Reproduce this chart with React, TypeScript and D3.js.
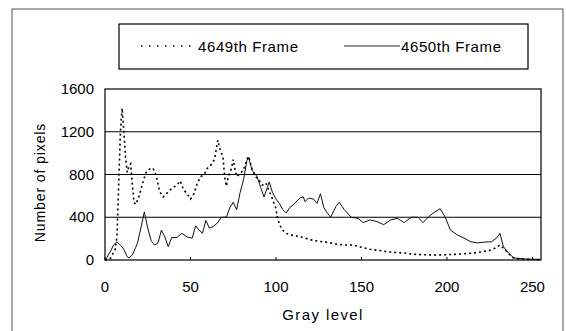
import React from "react";
import * as d3 from "d3";

const width = 566;
const height = 331;
const margin = { top: 89, right: 25, bottom: 71, left: 105 };

// 4649th frame histogram (gray level, count)
const frame4649Gray = [0, 3, 6, 7, 8, 9, 10, 11, 12, 13, 14, 15, 16, 17, 18, 20, 22, 24, 26, 28, 30, 32, 34, 36, 38, 40, 42, 44, 46, 48, 50, 52, 54, 56, 58, 60, 62, 64, 66, 67, 69, 70, 71, 72, 74, 75, 76, 77, 79, 81, 83, 84, 86, 88, 90, 92, 94, 96, 98, 100, 101, 103, 105, 108, 112, 116, 120, 125, 130, 135, 140, 145, 150, 155, 160, 165, 170, 175, 180, 185, 190, 195, 200, 205, 210, 215, 220, 225, 228, 231, 233, 235, 238, 242, 248, 255];
const frame4649Count = [0, 10, 100, 220, 700, 1200, 1420, 1210, 960, 820, 880, 900, 700, 540, 520, 600, 720, 820, 850, 860, 790, 640, 590, 620, 655, 680, 700, 740, 655, 620, 570, 620, 720, 780, 800, 860, 890, 940, 1120, 1050, 960, 780, 690, 770, 860, 940, 850, 780, 810, 840, 940, 970, 850, 780, 750, 700, 720, 650, 570, 480, 380, 300, 260, 235, 225, 210, 190, 175, 165, 150, 140, 140, 120, 100, 90, 78, 70, 65, 55, 50, 48, 47, 50, 53, 58, 65, 75, 90, 110, 140, 110, 80, 25, 10, 5, 3];

// 4650th frame histogram (gray level, count)
const frame4650Gray = [0, 1, 3, 5, 7, 9, 11, 13, 14, 16, 18, 19, 21, 23, 25, 27, 29, 31, 33, 35, 37, 39, 42, 45, 48, 51, 53, 55, 57, 59, 61, 63, 66, 68, 71, 73, 75, 77, 79, 81, 83, 84, 86, 89, 91, 93, 95, 96, 98, 100, 102, 104, 106, 108, 110, 114, 116, 117, 119, 122, 124, 126, 128, 130, 132, 135, 137, 140, 144, 148, 151, 155, 159, 163, 167, 171, 175, 179, 183, 186, 189, 192, 196, 199, 202, 206, 210, 214, 218, 222, 226, 229, 231, 233, 236, 239, 245, 255];
const frame4650Count = [0, 20, 75, 140, 170, 140, 100, 30, 20, 47, 120, 160, 300, 450, 300, 180, 140, 160, 280, 215, 125, 210, 210, 250, 215, 205, 320, 280, 250, 370, 300, 310, 350, 400, 400, 490, 540, 470, 630, 750, 930, 960, 840, 780, 680, 590, 680, 730, 630, 570, 530, 470, 440, 490, 515, 580, 590, 545, 580, 570, 530, 620, 490, 440, 400, 500, 540, 470, 400, 390, 350, 375, 360, 330, 375, 390, 350, 400, 400, 350, 400, 440, 480, 400, 280, 235, 205, 170, 160, 168, 170, 205, 250, 125, 65, 20, 10, 5];

const xTicks = [0, 50, 100, 150, 200, 250];
const yTicks = [0, 400, 800, 1200, 1600];

const font = "'Liberation Sans', Arial, sans-serif";

export default function App() {
  const x = d3.scaleLinear().domain([0, 255]).range([margin.left, width - margin.right]);
  const y = d3.scaleLinear().domain([0, 1600]).range([height - margin.bottom, margin.top]);

  const line = d3
    .line<[number, number]>()
    .x(d => x(d[0]))
    .y(d => y(d[1]));

  const s1 = frame4649Gray.map((g, i) => [g, frame4649Count[i]] as [number, number]);
  const s2 = frame4650Gray.map((g, i) => [g, frame4650Count[i]] as [number, number]);

  const plotW = width - margin.left - margin.right;
  const plotH = height - margin.top - margin.bottom;

  return (
    <svg width={width} height={height} style={{ position: "absolute", left: 0, top: 0 }} fontFamily={font}>
      <rect x={0} y={0} width={width} height={height} fill="#fff" />
      {/* outer chart border */}
      <rect x={12} y={9} width={551} height={340} fill="none" stroke="#555" strokeWidth={1} />

      {/* legend */}
      <rect x={119} y={24} width={409} height={45} fill="none" stroke="#000" strokeWidth={1.2} />
      <line x1={141} x2={197} y1={46} y2={46} stroke="#000" strokeWidth={1.4} strokeDasharray="1.5,6.5" />
      <text x={198} y={52} fontSize={15} letterSpacing={0.6}>4649th Frame</text>
      <line x1={344} x2={400} y1={46} y2={46} stroke="#222" strokeWidth={1} />
      <text x={401} y={52} fontSize={15} letterSpacing={0.6}>4650th Frame</text>

      {/* gridlines */}
      {yTicks.slice(1, -1).map(t => (
        <line key={t} x1={margin.left} x2={width - margin.right} y1={y(t)} y2={y(t)} stroke="#000" strokeWidth={1} />
      ))}
      <rect x={margin.left} y={margin.top} width={plotW} height={plotH} fill="none" stroke="#000" strokeWidth={1.2} />

      {/* x ticks */}
      {xTicks.map(t => (
        <g key={t}>
          <line x1={x(t)} x2={x(t)} y1={y(0)} y2={y(0) - 3} stroke="#000" />
          <text x={x(t)} y={292} fontSize={15} textAnchor="middle">{t}</text>
        </g>
      ))}
      {yTicks.map(t => (
        <text key={t} x={94} y={y(t) + 5} fontSize={15} textAnchor="end">{t}</text>
      ))}

      {/* series */}
      <path d={line(s2) || ""} fill="none" stroke="#111" strokeWidth={1} />
      <path d={line(s1) || ""} fill="none" stroke="#000" strokeWidth={1.6} strokeDasharray="2,3" />

      {/* axis titles */}
      <text x={323} y={320} fontSize={15} textAnchor="middle" letterSpacing={1.4}>Gray level</text>
      <text transform={`translate(45, ${(margin.top + height - margin.bottom) / 2 + 8}) rotate(-90)`} fontSize={14} textAnchor="middle" letterSpacing={0.9}>
        Number of pixels
      </text>
    </svg>
  );
}
